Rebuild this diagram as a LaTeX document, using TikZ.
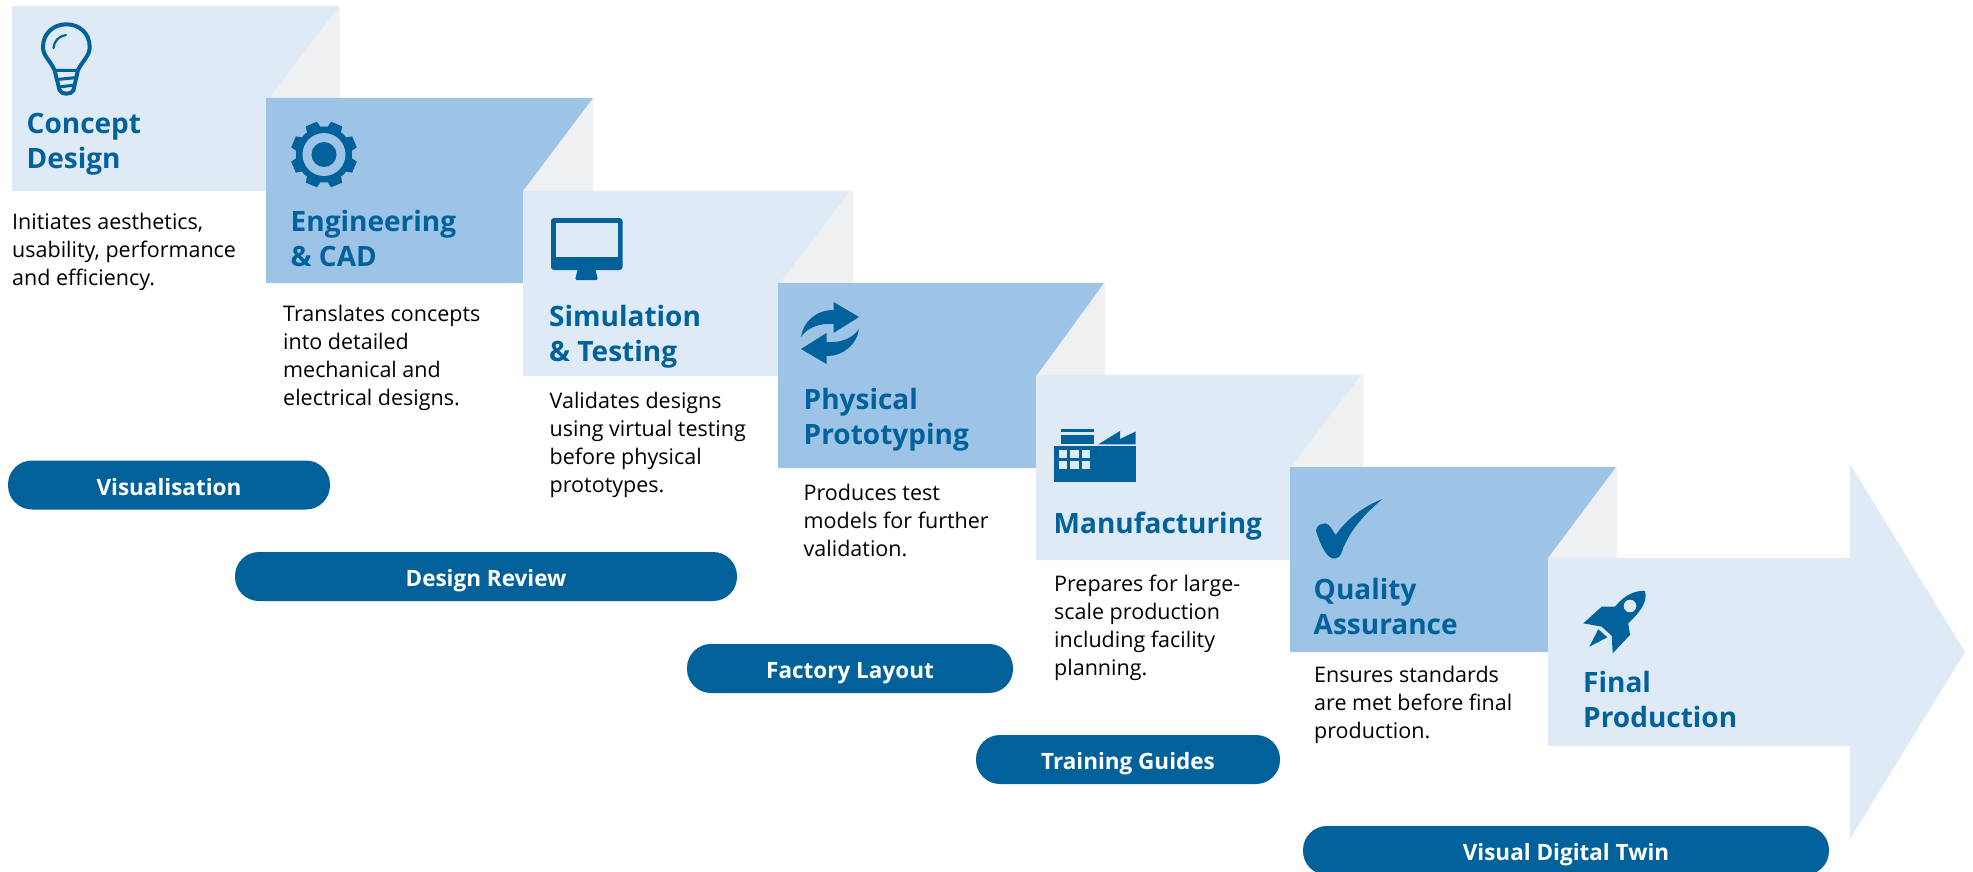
\documentclass[tikz,border=0pt]{standalone}
\usepackage{fontspec}
\setmainfont{Open Sans}
\usetikzlibrary{calc,positioning}
\definecolor{lightblock}{HTML}{DEEAF6}
\definecolor{midblock}{HTML}{9DC3E6}
\definecolor{greyfold}{HTML}{EFF0F1}
\definecolor{darkblue}{HTML}{01629B}
\tikzset{
	title/.style={anchor=base west,inner sep=0pt,align=left,text=darkblue,font=\fontsize{28}{35}\selectfont\bfseries},
	desc/.style={anchor=base west,inner sep=0pt,align=left,text=black,font=\fontsize{21.5}{28}\selectfont},
	pill/.style={fill=darkblue,rounded corners=24pt,minimum height=49pt,inner sep=0pt,text height=24pt,text depth=4pt,text=white,font=\fontsize{22.5}{27}\selectfont\bfseries},
	icon/.style={fill=darkblue,draw=none},
}
\begin{document}
\begin{tikzpicture}[x=1pt,y=-1pt]
			\useasboundingbox (0,0) rectangle (1973,872);
			\clip (0,0) rectangle (1973,872);
			% blocks
			\fill[greyfold] (269,98) -- (339.5,6) -- (339.5,98) -- cycle;
			\fill[lightblock] (12,6) -- (339.5,6) -- (269,98) -- (269,191) -- (12,191) -- cycle;
			\fill[greyfold] (523,191) -- (593,98) -- (593,191) -- cycle;
			\fill[midblock] (266,98) -- (593,98) -- (523,191) -- (523,283) -- (266,283) -- cycle;
			\fill[greyfold] (780,283) -- (850,191) -- (853,191) -- (853,283) -- cycle;
			\fill[lightblock] (523,191) -- (850,191) -- (780,283) -- (780,376) -- (523,376) -- cycle;
			\fill[greyfold] (1037,375) -- (1104,283) -- (1105,283) -- (1105,375) -- cycle;
			\fill[midblock] (778,283) -- (1104,283) -- (1037,375) -- (1037,468) -- (778,468) -- cycle;
			\fill[greyfold] (1291,467) -- (1361,375) -- (1363,375) -- (1363,467) -- cycle;
			\fill[lightblock] (1036,375) -- (1361,375) -- (1291,467) -- (1291,560) -- (1036,560) -- cycle;
			\fill[greyfold] (1548,558) -- (1616,467) -- (1617,467) -- (1617,558) -- cycle;
			\fill[midblock] (1290,467) -- (1616,467) -- (1548,558) -- (1548,652) -- (1290,652) -- cycle;
			\fill[lightblock] (1548,558) -- (1850,558) -- (1850,464) -- (1965,652) -- (1850,839) -- (1850,746) -- (1548,746) -- cycle;
			% titles
			\node[title] (concept) at (26.5,168) {Concept\\Design};
			\node[title] (engineering) at (290.5,266) {Engineering\\\& CAD};
			\node[title] (simulation) at (549,361) {Simulation\\\& Testing};
			\node[title] (physical) at (803.5,444) {Physical\\Prototyping};
			\node[title] (manufacturing) at (1053.5,533) {Manufacturing};
			\node[title] (quality) at (1313.5,634) {Quality\\Assurance};
			\node[title] (final) at (1583,727) {Final\\Production};
			% descriptions
			\node[desc] (conceptdesc) at (12,285) {Initiates aesthetics,\\usability, performance\\and efficiency.};
			\node[desc] (engineeringdesc) at (283,405) {Translates concepts\\into detailed\\mechanical and\\electrical designs.};
			\node[desc] (simulationdesc) at (549.5,492) {Validates designs\\using virtual testing\\before physical\\prototypes.};
			\node[desc] (physicaldesc) at (803.5,556) {Produces test\\models for further\\validation.};
			\node[desc] (manufacturingdesc) at (1054,675.5) {Prepares for large-\\scale production\\including facility\\planning.};
			\node[desc] (qualitydesc) at (1314,738.5) {Ensures standards\\are met before final\\production.};
			% pills
			\node[pill,minimum width=322pt] (visualisation) at (169,485) {Visualisation};
			\node[pill,minimum width=502pt] (review) at (486,576.5) {Design Review};
			\node[pill,minimum width=326pt] (layout) at (850,668.5) {Factory Layout};
			\node[pill,minimum width=304pt] (guides) at (1128,759.5) {Training Guides};
			\node[pill,minimum width=526pt] (twin) at (1566,850.5) {Visual Digital Twin};
			% bulb
			\draw[darkblue,line width=4pt,line join=round] (54.5,70) .. controls (50,60) and (43,56) .. (43,47) .. controls (43,33) and (54,24.3) .. (66.3,24.3) .. controls (79,24.3) and (89.7,33) .. (89.7,47) .. controls (89.7,56) and (83,60) .. (78,70) -- (73.5,90) .. controls (72,95) and (61,95) .. (59.5,90) -- cycle;
			\draw[darkblue,line width=2.2pt,line cap=round] (53.5,48) .. controls (54,41) and (59,36) .. (66,35);
			\draw[darkblue,line width=3pt] (54,70.5) -- (79,70.5) (57,79.5) -- (77,77.5) (59,87) -- (75,85);
			% gear
			\fill[icon] (324,154.5) circle (28);
			\foreach \a in {22.5,67.5,...,337.5}
				\fill[icon,rotate around={\a:(324,154.5)}] (345,146) -- (357,148.5) -- (357,160.5) -- (345,163) -- cycle;
			\fill[midblock] (324,154.5) circle (21.5);
			\fill[icon] (324,154.5) circle (12.5);
			% monitor
			\fill[icon,rounded corners=3pt] (551,218) rectangle (622.5,270);
			\fill[lightblock] (556,223) rectangle (618,257);
			\fill[icon,rounded corners=1.5pt] (575,280) -- (578,268) -- (595,268) -- (598,280) -- cycle;
			% arrows
			\foreach \a in {0,180}
				\fill[icon,rotate around={\a:(830,333)}] (801,337) .. controls (803,322) and (816,310) .. (833.5,310) -- (833.5,302) -- (859,317) -- (833.5,333) -- (833.5,324) .. controls (820,323) and (808,327) .. (801,337) -- cycle;
			% factory
			\fill[icon] (1061,429) rectangle (1094,431.7);
			\fill[icon] (1061,434.7) rectangle (1094,444.3);
			\fill[icon] (1098.3,444.3) -- (1120,431) -- (1120,439) -- (1135.7,431.5) -- (1135.7,444.3) -- cycle;
			\fill[icon] (1054.3,446) rectangle (1135.7,481.7);
			\foreach \i in {0,1,2}
				\foreach \j in {0,1}
					\fill[lightblock] (1059+\i*11.3,450+\j*10.8) rectangle ++(8.4,8);
			% check
			\fill[icon] (1382.5,499) .. controls (1362,507) and (1346,520) .. (1335.7,535) .. controls (1332,530) and (1330,524) .. (1325,523.3) .. controls (1320,524) and (1316,526) .. (1316,531) .. controls (1319,540) and (1323,551) .. (1329,556.5) .. controls (1333,560) and (1339,559) .. (1341,554) .. controls (1348,533) and (1362,516) .. (1382.5,499) -- cycle;
			% rocket
			\fill[icon] (1645,591) .. controls (1636,590) and (1624,595) .. (1615,606.7) -- (1601.7,606.7) -- (1583.3,623.3) -- (1601.7,626.7) -- (1611.7,635.7) -- (1612.7,653.3) -- (1630,635) -- (1628.3,623.3) .. controls (1640,612) and (1648,602) .. (1645,591) -- cycle;
			\fill[lightblock] (1630,606) circle (6.3);
			\fill[icon] (1598.3,629.3) -- (1607.3,637.3) -- (1589.3,646.7) -- cycle;
		\end{tikzpicture}
\end{document}
